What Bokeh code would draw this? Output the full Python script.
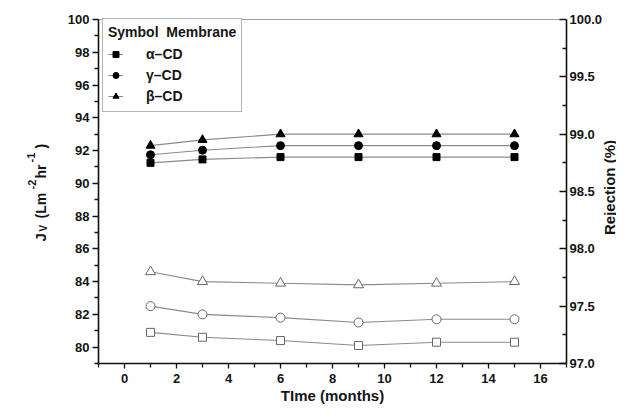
from math import pi
from bokeh.plotting import figure
from bokeh.models import (Range1d, LinearAxis, FixedTicker, Label, Legend,
                          LegendItem, NumeralTickFormatter)
from bokeh.embed import file_html
from bokeh.resources import INLINE

# ---------------- data ----------------
months = [1, 3, 6, 9, 12, 15]

# Rejection (%) - filled symbols, right axis
alpha_rej = [98.75, 98.78, 98.80, 98.80, 98.80, 98.80]
gamma_rej = [98.82, 98.86, 98.90, 98.90, 98.90, 98.90]
beta_rej = [98.90, 98.95, 99.00, 99.00, 99.00, 99.00]

# Flux Jv - open symbols, left axis
alpha_flux = [80.9, 80.6, 80.4, 80.1, 80.3, 80.3]
gamma_flux = [82.5, 82.0, 81.8, 81.5, 81.7, 81.7]
beta_flux = [84.6, 84.0, 83.9, 83.8, 83.9, 84.0]

membranes = ["\u03b1\u2013CD", "\u03b3\u2013CD", "\u03b2\u2013CD"]
markers = ["square", "circle", "triangle"]

x_bounds = (-1, 17)
flux_bounds = (79, 100)
rej_bounds = (97, 100)
x_ticks = [0, 2, 4, 6, 8, 10, 12, 14, 16]
x_minor = [-1, 1, 3, 5, 7, 9, 11, 13, 15, 17]
flux_ticks = [80, 82, 84, 86, 88, 90, 92, 94, 96, 98, 100]
flux_minor = [79, 81, 83, 85, 87, 89, 91, 93, 95, 97, 99]
rej_ticks = [97.0, 97.5, 98.0, 98.5, 99.0, 99.5, 100.0]
rej_minor = [97.25, 97.75, 98.25, 98.75, 99.25, 99.75]

# ---------------- layout (pixels) ----------------
W, H = 616, 404
X0, X1 = 98, 566      # plot box left/right on canvas
Y0, Y1 = 19, 363      # plot box top/bottom on canvas
FONT = "Liberation Sans"
TXT = "#151515"


def outer_range(lo, hi, p_lo, p_hi, total):
    k = (p_hi - p_lo) / (hi - lo)
    return Range1d(lo - p_lo / k, hi + (total - p_hi) / k)


xr = outer_range(x_bounds[0], x_bounds[1], X0, X1, W)
# y: pixel measured from bottom
yr = outer_range(flux_bounds[0], flux_bounds[1], H - Y1, H - Y0, H)
rr = outer_range(rej_bounds[0], rej_bounds[1], H - Y1, H - Y0, H)

p = figure(width=W, height=H, output_backend="svg", toolbar_location=None,
           x_range=xr, y_range=yr, x_axis_location=None, y_axis_location=None,
           min_border=0)
p.min_border_left = p.min_border_right = 0
p.min_border_top = p.min_border_bottom = 0
p.extra_y_ranges = {"rej": rr}
p.grid.visible = False
p.outline_line_color = None
p.background_fill_color = "white"
p.border_fill_color = "white"


def style_axis(ax, tout, tin, mout, min_):
    ax.axis_line_color = "#111111"
    ax.axis_line_width = 1.6
    ax.major_tick_line_color = "#111111"
    ax.minor_tick_line_color = "#111111"
    ax.major_tick_line_width = 1.3
    ax.minor_tick_line_width = 1.3
    ax.major_tick_out = tout
    ax.major_tick_in = tin
    ax.minor_tick_out = mout
    ax.minor_tick_in = min_
    ax.major_label_text_font = FONT
    ax.major_label_text_font_style = "bold"
    ax.major_label_text_font_size = "13px"
    ax.major_label_text_color = TXT


top = LinearAxis(fixed_location=flux_bounds[1], bounds=x_bounds,
                 ticker=FixedTicker(ticks=[], minor_ticks=[]))
top.axis_line_color = "#a0a0a0"
top.axis_line_width = 1
top.major_label_text_font_size = "0px"
p.add_layout(top, "above")

xa = LinearAxis(fixed_location=flux_bounds[0], bounds=x_bounds,
                ticker=FixedTicker(ticks=x_ticks, minor_ticks=x_minor))
style_axis(xa, 5, 0, 4, 0)
xa.major_label_standoff = 5
p.add_layout(xa, "below")

ya = LinearAxis(fixed_location=x_bounds[0], bounds=flux_bounds,
                ticker=FixedTicker(ticks=flux_ticks, minor_ticks=flux_minor))
style_axis(ya, 6, 0, 4, 0)
ya.major_label_standoff = 3
p.add_layout(ya, "left")

ra = LinearAxis(y_range_name="rej", fixed_location=x_bounds[1], bounds=rej_bounds,
                ticker=FixedTicker(ticks=rej_ticks, minor_ticks=rej_minor),
                formatter=NumeralTickFormatter(format="0.0"))
style_axis(ra, 0, 7, 0, 4)
ra.major_label_standoff = 3
p.add_layout(ra, "right")

# ---------------- series ----------------
LINE = "#8a8a8a"
legend_items = []
for rej, name, mk in zip([alpha_rej, gamma_rej, beta_rej], membranes, markers):
    lr = p.line(months, rej, y_range_name="rej", line_color=LINE, line_width=1.1)
    sz = {"square": 7, "circle": 8, "triangle": 9}[mk]
    sr = p.scatter(months, rej, y_range_name="rej", marker=mk, size=sz,
                   fill_color="black", line_color="black")
    legend_items.append(LegendItem(label=name, renderers=[lr, sr]))

for flux, mk in zip([alpha_flux, gamma_flux, beta_flux], markers):
    p.line(months, flux, line_color=LINE, line_width=1.1)
    sz = {"square": 8, "circle": 9, "triangle": 10}[mk]
    p.scatter(months, flux, marker=mk, size=sz, fill_color="white",
              line_color="#666666", line_width=1)

# ---------------- legend ----------------
LEG_LEFT, LEG_BOTTOM = 102, 112   # canvas px of legend box left / bottom
legend = Legend(items=legend_items, location=(LEG_LEFT, H - LEG_BOTTOM),
                title="Symbol\u00a0\u00a0Membrane")
legend.margin = 0
legend.padding = 5
legend.spacing = 1
legend.glyph_width = 15
legend.glyph_height = 20
legend.label_height = 20
legend.label_standoff = 23
legend.title_standoff = 4
legend.title_text_font = FONT
legend.title_text_font_style = "bold"
legend.title_text_font_size = "14px"
legend.title_text_color = TXT
legend.label_text_font = FONT
legend.label_text_font_style = "bold"
legend.label_text_font_size = "14px"
legend.label_text_color = TXT
legend.border_line_color = "#6a6a6a"
legend.border_line_width = 1
legend.background_fill_color = "white"
legend.background_fill_alpha = 1
p.add_layout(legend)

# ---------------- axis titles ----------------
# (text, baseline x on canvas, start y on canvas, font size)
pieces = [
    ("J", 40, 241, "15px"),
    ("V", 43, 231, "10px"),
    ("(Lm", 40, 218, "14px"),
    ("-2", 31, 189, "11px"),
    ("hr", 40, 178, "14px"),
    ("-1", 30, 162, "11px"),
    (")", 40, 148, "14px"),
]
for t, px, py, fs in pieces:
    p.add_layout(Label(x=px, y=H - py, x_units="screen", y_units="screen",
                       text=t, angle=pi / 2, text_align="left",
                       text_baseline="alphabetic", text_font=FONT,
                       text_font_style="bold", text_font_size=fs,
                       text_color=TXT))

p.add_layout(Label(x=609, y=H - 187, x_units="screen", y_units="screen",
                   text="Rejection (%)", angle=pi / 2, text_align="center",
                   text_baseline="alphabetic", text_font=FONT,
                   text_font_style="bold", text_font_size="15px",
                   text_color=TXT))

p.add_layout(Label(x=(X0 + X1) / 2, y=H - 395, x_units="screen", y_units="screen",
                   text="TIme (months)", text_align="center",
                   text_baseline="middle", text_font=FONT,
                   text_font_style="bold", text_font_size="15px",
                   text_color=TXT))

open("out.html", "w").write(file_html(p, INLINE))
